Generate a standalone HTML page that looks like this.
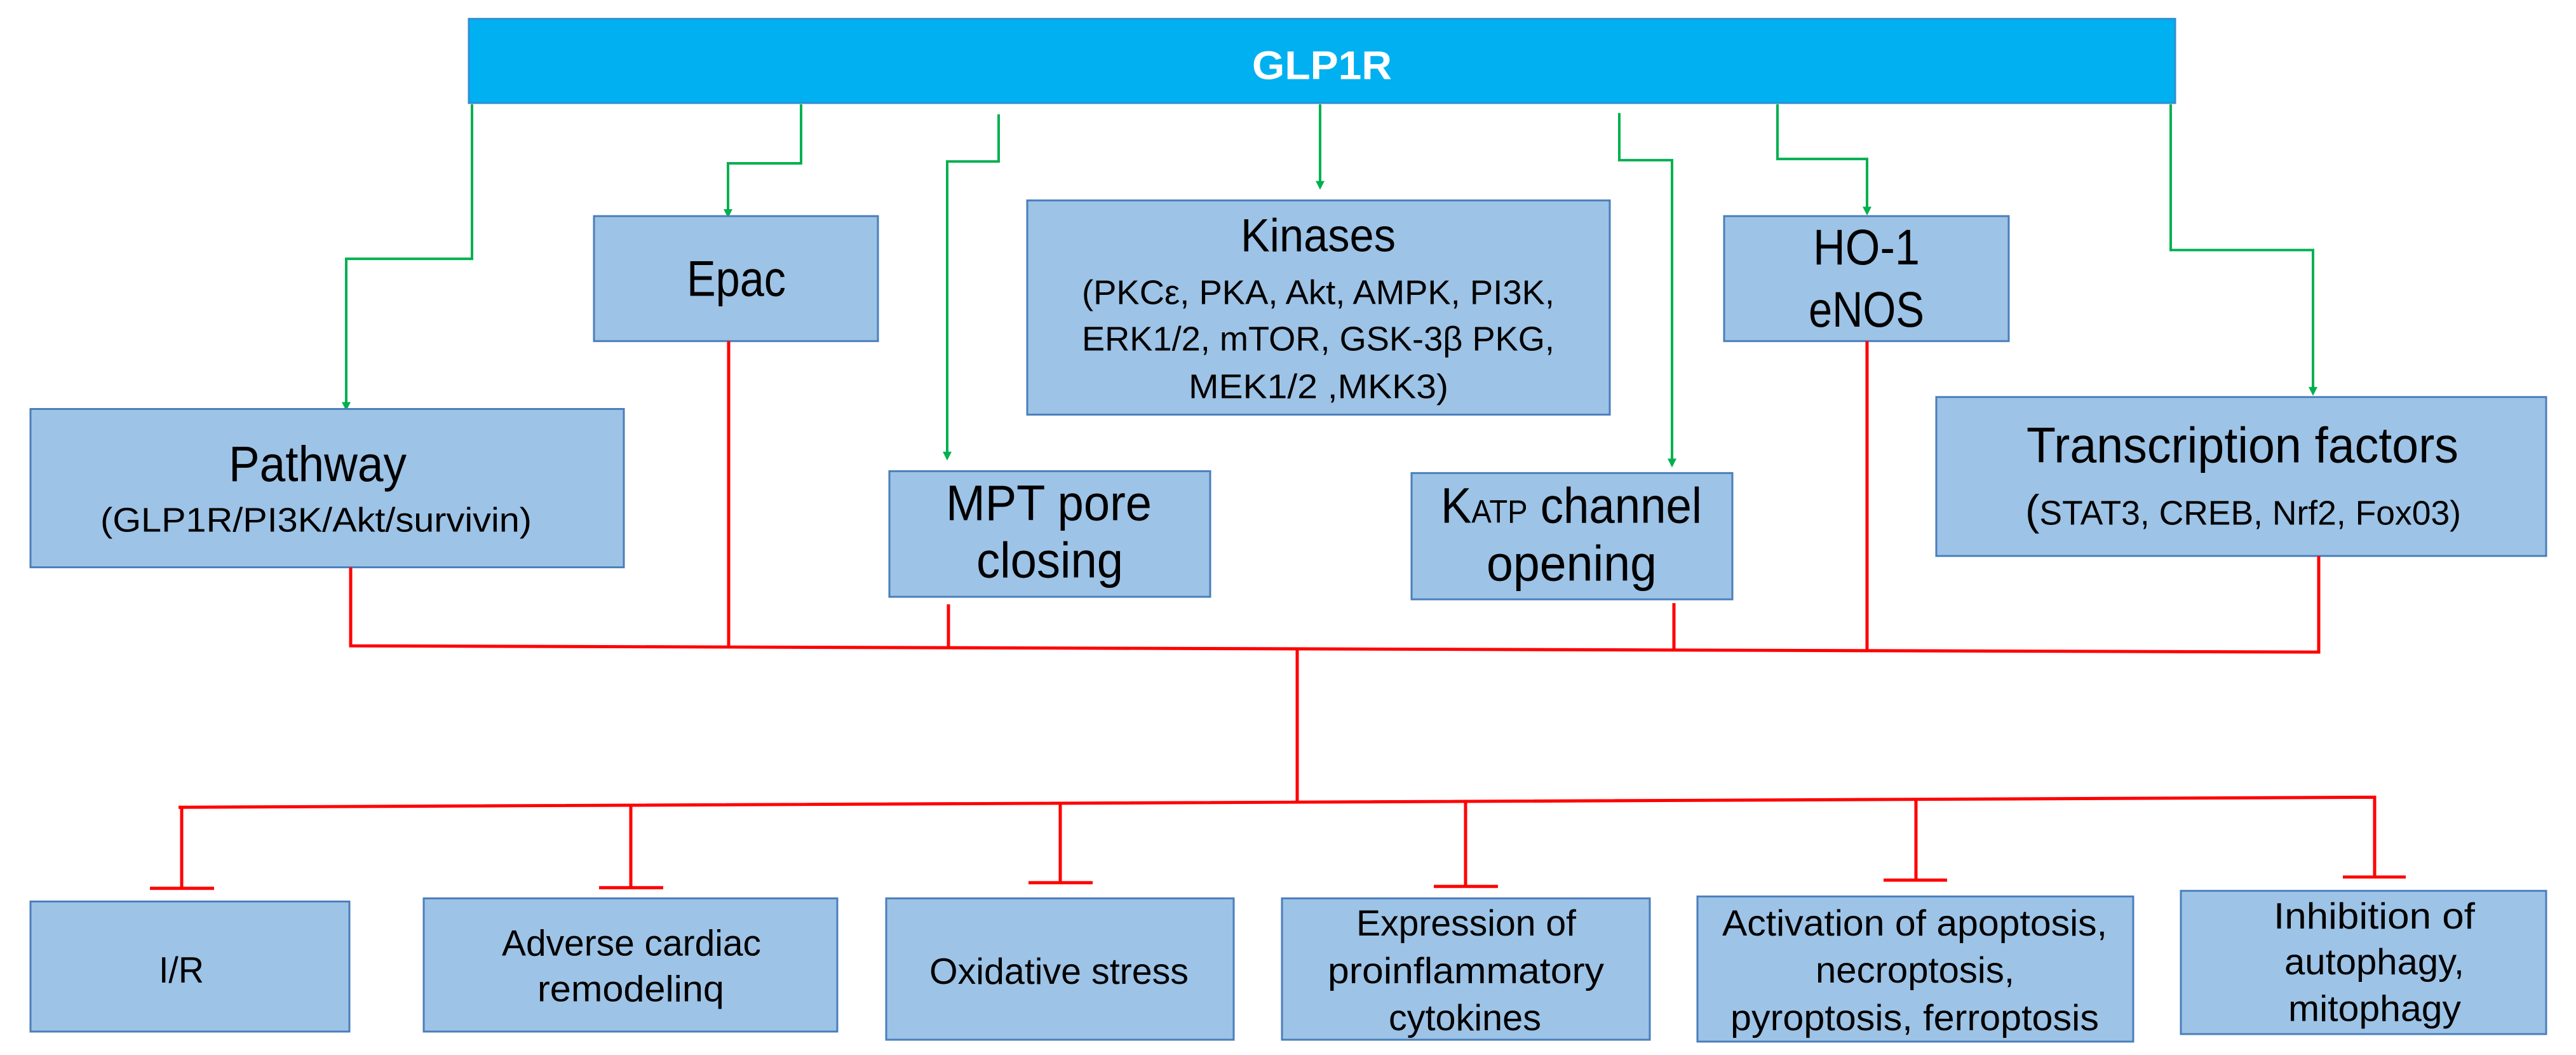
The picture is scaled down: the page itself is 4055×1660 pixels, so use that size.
<!DOCTYPE html>
<html><head><meta charset="utf-8"><style>html,body{margin:0;padding:0;background:#fff}svg{display:block}</style></head>
<body>
<svg width="4055" height="1660" viewBox="0 0 4055 1660" xmlns="http://www.w3.org/2000/svg" font-family="'Liberation Sans Narrow','Liberation Sans',sans-serif" fill="#000">
<g transform="scale(1,0.9885)">
<rect x="738" y="30" width="2686" height="134" fill="#00b0f0" stroke="#2e8fd0" stroke-width="3"/>
<text x="2081" y="126" font-size="64" font-weight="bold" fill="#fff" text-anchor="middle" textLength="220" lengthAdjust="spacingAndGlyphs" font-family="'Liberation Sans',sans-serif">GLP1R</text>

<g fill="none" stroke="#00b050" stroke-width="4">
<polyline points="743,166 743,412 545,412 545,645"/>
<polyline points="1261,166 1261,260 1146,260 1146,338"/>
<polyline points="1572,182 1572,257 1491,257 1491,725"/>
<polyline points="2078,166 2078,294"/>
<polyline points="2549,180 2549,255 2632,255 2632,736"/>
<polyline points="2798,166 2798,253 2939,253 2939,335"/>
<polyline points="3417,166 3417,398 3641,398 3641,622"/>
</g>
<g fill="#00b050">
<polygon points="538,640 552,640 545,654"/>
<polygon points="1139,333 1153,333 1146,347"/>
<polygon points="1484,719 1498,719 1491,733"/>
<polygon points="2071,288 2085,288 2078,302"/>
<polygon points="2625,730 2639,730 2632,744"/>
<polygon points="2932,329 2946,329 2939,343"/>
<polygon points="3634,616 3648,616 3641,630"/>
</g>

<g fill="#9dc3e6" stroke="#4a7ebb" stroke-width="3">
<rect x="48" y="651" width="934" height="252"/>
<rect x="935" y="344" width="447" height="199"/>
<rect x="1617" y="319" width="917" height="341"/>
<rect x="1400" y="750" width="505" height="200"/>
<rect x="2222" y="753" width="505" height="201"/>
<rect x="2714" y="344" width="448" height="199"/>
<rect x="3048" y="632" width="960" height="253"/>
<rect x="48" y="1435" width="502" height="207"/>
<rect x="667" y="1430" width="651" height="212"/>
<rect x="1395" y="1430" width="547" height="225"/>
<rect x="2018" y="1430" width="579" height="225"/>
<rect x="2672" y="1427" width="686" height="231"/>
<rect x="3433" y="1418" width="575" height="228"/>
</g>

<g fill="none" stroke="#ff0000" stroke-width="5">
<polyline points="552,903 552,1028 3650,1038 3650,885"/>
<line x1="1147" y1="543" x2="1147" y2="1030"/>
<line x1="1493" y1="962" x2="1493" y2="1031"/>
<line x1="2635" y1="960" x2="2635" y2="1035"/>
<line x1="2939" y1="543" x2="2939" y2="1036"/>
<line x1="2042" y1="1034" x2="2042" y2="1277"/>
<polyline points="281,1285 3738,1269 3738,1396"/>
<line x1="286" y1="1285" x2="286" y2="1414"/>
<line x1="993" y1="1282" x2="993" y2="1413"/>
<line x1="1669" y1="1279" x2="1669" y2="1405"/>
<line x1="2307" y1="1275" x2="2307" y2="1411"/>
<line x1="3016" y1="1272" x2="3016" y2="1401"/>
<line x1="236" y1="1414" x2="337" y2="1414"/>
<line x1="943" y1="1413" x2="1044" y2="1413"/>
<line x1="1619" y1="1405" x2="1720" y2="1405"/>
<line x1="2257" y1="1411" x2="2358" y2="1411"/>
<line x1="2965" y1="1401" x2="3065" y2="1401"/>
<line x1="3688" y1="1396" x2="3787" y2="1396"/>
</g>

<g>
<text x="360" y="766" font-size="80" textLength="280" lengthAdjust="spacingAndGlyphs">Pathway</text>
<text x="158" y="846" font-size="54" textLength="679" lengthAdjust="spacingAndGlyphs">(GLP1R/PI3K/Akt/survivin)</text>
<text x="1081" y="471" font-size="80" textLength="156" lengthAdjust="spacingAndGlyphs">Epac</text>
<text x="1953" y="400" font-size="74" textLength="244" lengthAdjust="spacingAndGlyphs">Kinases</text>
<text x="1703" y="484" font-size="54" textLength="744" lengthAdjust="spacingAndGlyphs">(PKCε, PKA, Akt, AMPK, PI3K,</text>
<text x="1703" y="558" font-size="54" textLength="744" lengthAdjust="spacingAndGlyphs">ERK1/2, mTOR,  GSK-3β PKG,</text>
<text x="1871" y="634" font-size="54" textLength="409" lengthAdjust="spacingAndGlyphs">MEK1/2 ,MKK3)</text>
<text x="1489" y="828" font-size="80" textLength="324" lengthAdjust="spacingAndGlyphs">MPT pore</text>
<text x="1537" y="919" font-size="80" textLength="231" lengthAdjust="spacingAndGlyphs">closing</text>
<text x="2268" y="832" font-size="80" textLength="411" lengthAdjust="spacingAndGlyphs">K<tspan font-size="52">ATP</tspan> channel</text>
<text x="2340" y="924" font-size="80" textLength="268" lengthAdjust="spacingAndGlyphs">opening</text>
<text x="2854" y="421" font-size="80" textLength="168" lengthAdjust="spacingAndGlyphs">HO-1</text>
<text x="2847" y="520" font-size="80" textLength="182" lengthAdjust="spacingAndGlyphs">eNOS</text>
<text x="3190" y="736" font-size="80" textLength="680" lengthAdjust="spacingAndGlyphs">Transcription factors</text>
<text x="3188" y="835" font-size="54" textLength="686" lengthAdjust="spacingAndGlyphs"><tspan font-size="68">(</tspan>STAT3, CREB, Nrf2, Fox03)</text>
<text x="250" y="1564" font-size="58" textLength="71" lengthAdjust="spacingAndGlyphs">I/R</text>
<text x="790" y="1521" font-size="58" textLength="408" lengthAdjust="spacingAndGlyphs">Adverse cardiac</text>
<text x="846" y="1594" font-size="58" textLength="294" lengthAdjust="spacingAndGlyphs">remodelinq</text>
<text x="1463" y="1566" font-size="58" textLength="408" lengthAdjust="spacingAndGlyphs">Oxidative stress</text>
<text x="2135" y="1489" font-size="58" textLength="346" lengthAdjust="spacingAndGlyphs">Expression of</text>
<text x="2090" y="1565" font-size="58" textLength="435" lengthAdjust="spacingAndGlyphs">proinflammatory</text>
<text x="2186" y="1640" font-size="58" textLength="240" lengthAdjust="spacingAndGlyphs">cytokines</text>
<text x="2711" y="1489" font-size="58" textLength="606" lengthAdjust="spacingAndGlyphs">Activation of apoptosis,</text>
<text x="2858" y="1564" font-size="58" textLength="313" lengthAdjust="spacingAndGlyphs">necroptosis,</text>
<text x="2724" y="1640" font-size="58" textLength="580" lengthAdjust="spacingAndGlyphs">pyroptosis, ferroptosis</text>
<text x="3579" y="1478" font-size="58" textLength="317" lengthAdjust="spacingAndGlyphs">Inhibition of</text>
<text x="3596" y="1551" font-size="58" textLength="283" lengthAdjust="spacingAndGlyphs">autophagy,</text>
<text x="3602" y="1625" font-size="58" textLength="272" lengthAdjust="spacingAndGlyphs">mitophagy</text>
</g>
</g>
</svg>
</body></html>
